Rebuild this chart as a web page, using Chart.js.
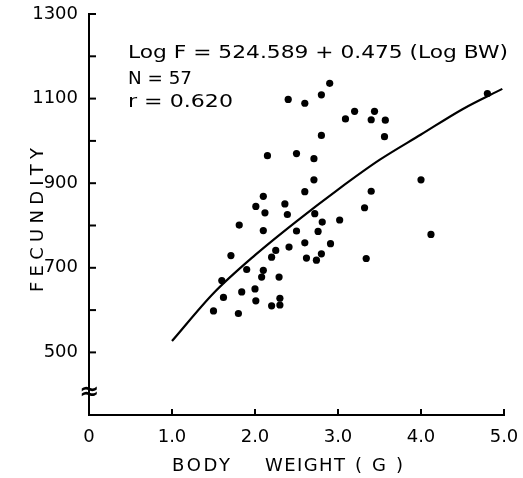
<!DOCTYPE html>
<html lang="en">
<head>
<meta charset="UTF-8">
<title>Fecundity vs body weight</title>
<script src="https://cdn.jsdelivr.net/npm/chart.js@4.4.0/dist/chart.umd.min.js"></script>
<style>
  html, body { margin: 0; padding: 0; background: #fff; }
  #wrap { width: 523px; height: 478px; }
</style>
</head>
<body>
<div id="wrap"><canvas id="chart" width="523" height="478"></canvas></div>
<script>
// body weight (g) and fecundity of each fish
var weight = [2.90, 2.40, 2.60, 2.80, 3.20, 3.09, 3.44, 3.40, 2.80, 2.15,
              2.50, 2.71, 2.71, 2.60, 2.10, 3.40, 4.80, 3.57, 3.56, 4.00,
              3.32, 4.12, 2.01, 2.36, 2.12, 2.39, 2.72, 1.81, 2.81, 3.02,
              2.10, 2.50, 2.76, 2.60, 2.91, 2.41, 2.25, 1.71, 2.20, 2.62,
              2.74, 2.80, 1.90, 2.10, 2.08, 2.29, 1.60, 1.84, 2.00, 1.62,
              2.01, 2.30, 2.30, 2.20, 1.50, 1.80, 3.34];
var fecundity = [1136, 1098, 1089, 1109, 1070, 1052, 1070, 1050, 1013, 965,
                 970, 958, 908, 880, 869, 881, 1112, 1049, 1010, 908,
                 842, 779, 845, 851, 830, 826, 828, 801, 808, 813,
                 788, 787, 786, 759, 757, 749, 741, 729, 725, 723,
                 718, 733, 696, 694, 678, 678, 670, 643, 650, 630,
                 622, 628, 612, 610, 598, 592, 722];

// fitted curve, read at a few weights
var fitWeight = [1.0, 1.5, 2.0, 2.5, 3.0, 3.5, 4.0, 4.5, 4.98];
var fitFecundity = [527, 640, 730, 810, 885, 955, 1015, 1075, 1123];

var xTicks = [0, 1, 2, 3, 4, 5];
var yTicks = [500, 600, 700, 800, 900, 1000, 1100, 1200, 1300];
var yLabelled = [500, 700, 900, 1100, 1300];

var FONT = '"DejaVu Sans", sans-serif';

// spread letters so the text runs from x0 to x1
function spacedText(ctx, text, x0, x1, y, size) {
  ctx.font = size + 'px ' + FONT;
  ctx.letterSpacing = '0px';
  var w = ctx.measureText(text).width;
  ctx.letterSpacing = ((x1 - x0 - w) / (text.length - 1)) + 'px';
  ctx.textAlign = 'left';
  ctx.textBaseline = 'middle';
  ctx.fillText(text, x0, y);
  ctx.letterSpacing = '0px';
}

// widen the glyphs so the text runs from x0 to x1
function stretchedText(ctx, text, x0, x1, y, size) {
  ctx.font = size + 'px ' + FONT;
  ctx.letterSpacing = '0px';
  var w = ctx.measureText(text).width;
  ctx.save();
  ctx.translate(x0, y);
  ctx.scale((x1 - x0) / w, 1);
  ctx.textAlign = 'left';
  ctx.textBaseline = 'middle';
  ctx.fillText(text, 0, 0);
  ctx.restore();
}

var extras = {
  id: 'extras',
  afterDraw: function(chart) {
    var ctx = chart.ctx;
    var xs = chart.scales.x, ys = chart.scales.y;
    var left = chart.chartArea.left, bottom = chart.chartArea.bottom;
    ctx.save();
    ctx.strokeStyle = '#000';
    ctx.fillStyle = '#000';
    ctx.lineWidth = 2;
    // inward tick marks
    yTicks.forEach(function(v) {
      var y = ys.getPixelForValue(v);
      ctx.beginPath(); ctx.moveTo(left, y); ctx.lineTo(left + 7, y); ctx.stroke();
    });
    xTicks.slice(1).forEach(function(v) {
      var x = xs.getPixelForValue(v);
      ctx.beginPath(); ctx.moveTo(x, bottom); ctx.lineTo(x, bottom - 6); ctx.stroke();
    });
    // axis break
    ctx.font = 'bold 24px ' + FONT;
    ctx.textAlign = 'center';
    ctx.textBaseline = 'middle';
    ctx.fillText('\u2248', left, 393);

    // equation block
    stretchedText(ctx, 'Log F = 524.589 + 0.475 (Log BW)', 128, 508, 53, 18);
    stretchedText(ctx, 'N = 57', 128, 192, 79, 18);
    stretchedText(ctx, 'r = 0.620', 128, 233, 102, 18);

    // axis titles
    spacedText(ctx, 'BODY', 172, 230, 466, 18);
    spacedText(ctx, 'WEIGHT', 265, 345, 466, 18);
    spacedText(ctx, '(G)', 355, 403, 466, 18);
    ctx.translate(38, 220);
    ctx.rotate(-Math.PI / 2);
    spacedText(ctx, 'FECUNDITY', -72, 72, 0, 18);
    ctx.restore();
  }
};

var scatter = weight.map(function(w, i) { return {x: w, y: fecundity[i]}; });
var fit = fitWeight.map(function(w, i) { return {x: w, y: fitFecundity[i]}; });

new Chart(document.getElementById('chart'), {
  type: 'scatter',
  data: {
    datasets: [
      {
        label: 'Fish',
        data: scatter,
        pointRadius: 3.6,
        pointBackgroundColor: '#000',
        pointBorderWidth: 0,
        borderColor: '#000'
      },
      {
        type: 'line',
        label: 'Fit',
        data: fit,
        showLine: true,
        borderColor: '#000',
        borderWidth: 2.2,
        pointRadius: 0,
        fill: false,
        cubicInterpolationMode: 'monotone'
      }
    ]
  },
  options: {
    responsive: false,
    animation: false,
    layout: { padding: { top: 14, right: 19, left: 0, bottom: 0 } },
    plugins: {
      legend: { display: false },
      tooltip: { enabled: false }
    },
    scales: {
      x: {
        type: 'linear',
        min: 0,
        max: 5,
        afterBuildTicks: function(s) { s.ticks = xTicks.map(function(v) { return {value: v}; }); },
        afterFit: function(s) { s.height = 63; },
        ticks: {
          padding: 4,
          color: '#000',
          font: { family: FONT, size: 18 },
          callback: function(v) { return v === 0 ? '0' : v.toFixed(1); }
        },
        grid: { display: false },
        border: { display: true, color: '#000', width: 2 }
      },
      y: {
        type: 'linear',
        min: 352,
        max: 1300,
        afterBuildTicks: function(s) { s.ticks = yTicks.map(function(v) { return {value: v}; }); },
        afterFit: function(s) { s.width = 89; },
        ticks: {
          padding: 3,
          autoSkip: false,
          color: '#000',
          font: { family: FONT, size: 18 },
          callback: function(v) { return yLabelled.indexOf(v) >= 0 ? String(v) : ''; }
        },
        grid: { display: false },
        border: { display: true, color: '#000', width: 2 }
      }
    }
  },
  plugins: [extras]
});
</script>
</body>
</html>
